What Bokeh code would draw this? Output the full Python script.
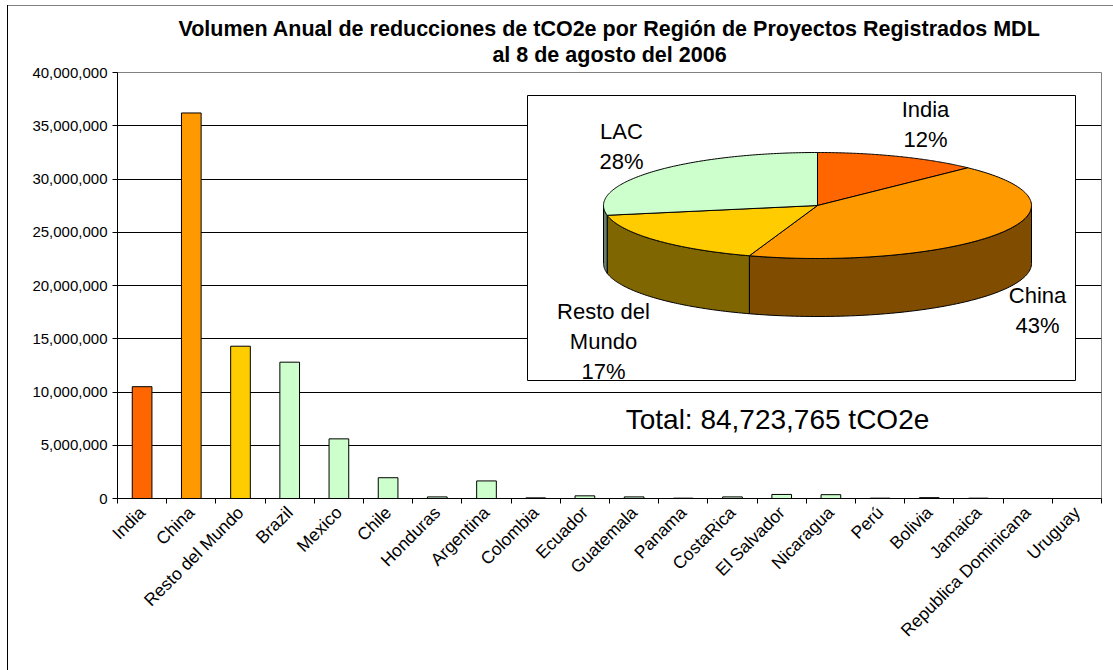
import math
import numpy as np
from bokeh.plotting import figure
from bokeh.models import FixedTicker, NumeralTickFormatter, Range1d, Title
from bokeh.core.properties import value
from bokeh.embed import file_html
from bokeh.resources import INLINE

# ---------------- data ----------------
countries = ["India", "China", "Resto del Mundo", "Brazil", "Mexico", "Chile", "Honduras",
             "Argentina", "Colombia", "Ecuador", "Guatemala", "Panama", "CostaRica",
             "El Salvador", "Nicaragua", "Perú", "Bolivia", "Jamaica",
             "Republica Dominicana", "Uruguay"]
volumes = [10500000, 36200000, 14300000, 12800000, 5600000, 1950000, 150000,
           1650000, 60000, 250000, 150000, 30000, 150000,
           380000, 360000, 30000, 80000, 30000, 0, 0]
groups = ["India", "China", "Resto del Mundo"] + ["LAC"] * 17
group_names = ["India", "China", "Resto del Mundo", "LAC"]
group_colors = {"India": "#FF6600", "China": "#FF9900", "Resto del Mundo": "#FFCC00", "LAC": "#CCFFCC"}
side_colors = {"India": "#803300", "China": "#804C00", "Resto del Mundo": "#806600", "LAC": "#668066"}
pie_label_names = {"India": "India", "China": "China", "Resto del Mundo": "Resto del\nMundo", "LAC": "LAC"}
y_ticks = [0, 5000000, 10000000, 15000000, 20000000, 25000000, 30000000, 35000000, 40000000]
title_line1 = "Volumen Anual de reducciones de tCO2e por Región de Proyectos Registrados MDL"
title_line2 = "al 8 de agosto del 2006"
total_text = "Total: 84,723,765 tCO2e"

FONT = "Liberation Sans"

# ---------------- layout (page pixels) ----------------
W, H = 1113, 670
FRAME_L, FRAME_T, FRAME_R, FRAME_B = 117, 72, 1101, 498
N = len(countries)
YMAX = 40000000


def dx(px):
    return (px - FRAME_L) / (FRAME_R - FRAME_L) * N


def dy(py):
    return (FRAME_B - py) / (FRAME_B - FRAME_T) * YMAX


p = figure(width=W, height=H, output_backend="svg", toolbar_location=None,
           x_range=Range1d(0, N), y_range=Range1d(0, YMAX),
           min_border_left=FRAME_L, min_border_top=FRAME_T,
           min_border_right=W - FRAME_R, min_border_bottom=H - FRAME_B)
p.outline_line_color = "#808080"
p.background_fill_color = "white"
p.border_fill_color = None
# outer chart border on the left and top edges, painted behind the transparent canvas border
p.styles = {"background": ("linear-gradient(#000000, #000000) 7px 5px / 1px 665px no-repeat, "
                           "linear-gradient(#808080, #808080) 7px 5px / 1106px 1px no-repeat, #ffffff")}
p.title = None

# title (two centred lines; first added sits closest to the frame)
p.add_layout(Title(text=title_line2, align="center", text_font=FONT, text_font_size="21.5px",
                   text_font_style="bold", text_color="black", offset=-3, standoff=11), "above")
p.add_layout(Title(text=title_line1, align="center", text_font=FONT, text_font_size="21.5px",
                   text_font_style="bold", text_color="black", offset=-3, standoff=-10), "above")

# ---------------- bars ----------------
centers = [i + 0.5 for i in range(N)]
colors = [group_colors[g] for g in groups]
p.vbar(x=centers, top=volumes, width=0.4, fill_color=colors, line_color="black", line_width=1)

# axes
p.xaxis.ticker = FixedTicker(ticks=centers, minor_ticks=list(range(N + 1)))
p.xaxis.major_label_overrides = {c: name for c, name in zip(centers, countries)}
p.xaxis.major_label_orientation = math.pi / 4
p.xaxis.major_tick_line_color = None
p.xaxis.major_tick_out = 6
p.xaxis.major_tick_in = 0
p.xaxis.minor_tick_line_color = "black"
p.xaxis.minor_tick_out = 5
p.xaxis.minor_tick_in = 0
p.xaxis.major_label_text_font = FONT
p.xaxis.major_label_text_font_size = "17.5px"
p.xaxis.major_label_text_color = "black"
p.xaxis.axis_line_color = "black"

p.yaxis.ticker = FixedTicker(ticks=y_ticks, minor_ticks=[])
p.yaxis.formatter = NumeralTickFormatter(format="0,0")
p.yaxis.major_tick_out = 5
p.yaxis.major_tick_in = 0
p.yaxis.major_tick_line_color = "black"
p.yaxis.axis_line_color = "black"
p.yaxis.major_label_text_font = FONT
p.yaxis.major_label_text_font_size = "15px"
p.yaxis.major_label_text_color = "black"

p.xgrid.visible = False
p.ygrid.ticker = FixedTicker(ticks=y_ticks[1:-1], minor_ticks=[])
p.ygrid.grid_line_color = "black"
p.ygrid.grid_line_width = 1

# ---------------- inset pie ----------------
BOX = (527, 95, 1075, 380)
p.quad(left=[dx(BOX[0])], right=[dx(BOX[2])], top=[dy(BOX[1])], bottom=[dy(BOX[3])],
       fill_color="white", line_color="black", line_width=1)

group_totals = [sum(v for v, g in zip(volumes, groups) if g == name) for name in group_names]
grand = sum(group_totals)
fracs = [t / grand for t in group_totals]

CX, CY, A, B, DEPTH = 817, 205, 214, 53, 58


def pt(t, drop=0.0):
    return CX + A * math.cos(t), CY - B * math.sin(t) + drop


starts, ends = [], []
ang = math.pi / 2
for f in fracs:
    starts.append(ang)
    ang -= f * 2 * math.pi
    ends.append(ang)

side_xs, side_ys, side_cols = [], [], []
for name, s, e in zip(group_names, starts, ends):
    lo, hi = e, s
    for flo, fhi in [(-3 * math.pi, -2 * math.pi), (-math.pi, 0.0), (math.pi, 2 * math.pi)]:
        a0, a1 = max(lo, flo), min(hi, fhi)
        if a1 - a0 > 1e-6:
            ts = np.linspace(a0, a1, 80)
            top_pts = [pt(t) for t in ts]
            bot_pts = [pt(t, DEPTH) for t in ts[::-1]]
            poly = top_pts + bot_pts
            side_xs.append([dx(q[0]) for q in poly])
            side_ys.append([dy(q[1]) for q in poly])
            side_cols.append(side_colors[name])
p.patches(side_xs, side_ys, fill_color=side_cols, line_color="black", line_width=1)

top_xs, top_ys, top_cols = [], [], []
for name, s, e in zip(group_names, starts, ends):
    ts = np.linspace(s, e, 120)
    poly = [(CX, CY)] + [pt(t) for t in ts]
    top_xs.append([dx(q[0]) for q in poly])
    top_ys.append([dy(q[1]) for q in poly])
    top_cols.append(group_colors[name])
p.patches(top_xs, top_ys, fill_color=top_cols, line_color="black", line_width=1)

label_pos = {"India": (925, 124), "China": (1037, 310), "Resto del Mundo": (603, 341), "LAC": (621, 146)}
lx = [dx(label_pos[n][0]) for n in group_names]
ly = [dy(label_pos[n][1]) for n in group_names]
ltxt = ["%s\n%d%%" % (pie_label_names[n], round(f * 100)) for n, f in zip(group_names, fracs)]
p.text(x=lx, y=ly, text=ltxt, text_font=value(FONT), text_font_size="22px",
       text_align="center", text_baseline="middle", text_line_height=1.2, text_color="black")

p.text(x=[dx(777)], y=[dy(419)], text=[total_text], text_font=value(FONT), text_font_size="28px",
       text_align="center", text_baseline="middle", text_color="black")

open("out.html", "w").write(file_html(p, INLINE))
